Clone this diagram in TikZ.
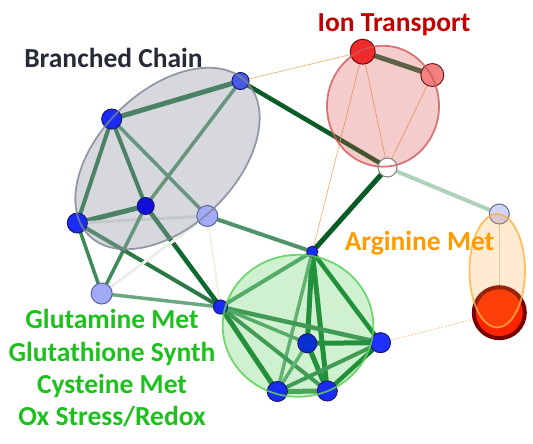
\documentclass[tikz,border=0pt]{standalone}
\usepackage{fontspec}
\setmainfont{Carlito}
\pgfdeclarelayer{edgelayer}
\pgfdeclarelayer{tintlayer}
\pgfdeclarelayer{toplayer}
\pgfsetlayers{edgelayer,tintlayer,main,toplayer}

\definecolor{dkgreen}{HTML}{0F6A30}
\definecolor{dkgreenb}{HTML}{157A35}
\definecolor{dkgreenc}{HTML}{0A5C26}
\definecolor{mdgreen}{HTML}{3E8A58}
\definecolor{mdgreenb}{HTML}{2B7A45}
\definecolor{mdgreenc}{HTML}{4F9468}
\definecolor{mdgreend}{HTML}{55A070}
\definecolor{mdgreene}{HTML}{5AA070}
\definecolor{mdgreenf}{HTML}{4A9A60}
\definecolor{iongreen}{HTML}{2F6E45}
\definecolor{ltgreen}{HTML}{6BA882}
\definecolor{palegreen}{HTML}{B0D2BA}
\definecolor{fadegreen}{HTML}{DCE6E0}
\definecolor{fadegreenb}{HTML}{E8F0E8}
\definecolor{fadegreenc}{HTML}{F2F2E4}
\definecolor{beige}{HTML}{D9D2C0}
\definecolor{dashbeige}{HTML}{EDD3A6}
\definecolor{thinorange}{HTML}{EBB57A}
\definecolor{nodeblue}{HTML}{1A2CF2}
\definecolor{nodebluelt}{HTML}{4A5AE6}
\definecolor{nodebluedk}{HTML}{1010D8}
\definecolor{nodebluedkb}{HTML}{0A30D0}
\definecolor{nodebluebr}{HTML}{2030FF}
\definecolor{nodeedge}{HTML}{18187A}
\definecolor{paleblue}{HTML}{A2AAF8}
\definecolor{paleedge}{HTML}{5E669E}
\definecolor{ionred}{HTML}{EE2A2A}
\definecolor{ionredrim}{HTML}{6A1010}
\definecolor{ionpink}{HTML}{F48080}
\definecolor{ionpinkrim}{HTML}{6A2020}
\definecolor{greyrim}{HTML}{808080}
\definecolor{lilac}{HTML}{D2D4F8}
\definecolor{lilacrim}{HTML}{6A6E90}
\definecolor{argred}{HTML}{FF2400}
\definecolor{argredrim}{HTML}{7A0000}
\definecolor{chainfill}{HTML}{9EA2AE}
\definecolor{chainrim}{HTML}{7D8494}
\definecolor{ionfill}{HTML}{D84848}
\definecolor{ionrim}{HTML}{D05858}
\definecolor{glufill}{HTML}{4CCC4C}
\definecolor{glurim}{HTML}{5CD05C}
\definecolor{argfill}{HTML}{FFA030}
\definecolor{argrim}{HTML}{FFB040}
\definecolor{chaintext}{HTML}{262B36}
\definecolor{iontext}{HTML}{C00000}
\definecolor{argtext}{HTML}{FF9A00}
\definecolor{glutext}{HTML}{1EC01E}

\tikzset{
  vtx/.style={circle, inner sep=0pt, line width=1pt},
  bvtx/.style={vtx, fill=nodeblue, draw=nodeedge},
  pvtx/.style={vtx, fill=paleblue, draw=paleedge},
  lnk/.style={line cap=round},
  dk/.style={lnk, draw=dkgreen},
  md/.style={lnk, draw=mdgreen},
  lt/.style={lnk, draw=ltgreen},
  fade/.style={lnk, draw=fadegreen, line width=3pt},
  thin/.style={lnk, draw=thinorange, line width=0.7pt},
  lbl/.style={anchor=base, inner sep=0pt, font=\bfseries\fontsize{27.5}{33}\selectfont},
}

\begin{document}
\begin{tikzpicture}[x=1pt, y=-1pt]
\useasboundingbox (0,0) rectangle (533,444);

% vertices
\node[bvtx, fill=nodebluelt, minimum size=17pt] (B1) at (240.5,81) {};
\node[bvtx, minimum size=20pt] (B2) at (111.7,119) {};
\node[bvtx, fill=nodebluedk, minimum size=17pt] (B3) at (145.7,206) {};
\node[bvtx, minimum size=20pt] (B4) at (77.3,223) {};
\node[pvtx, minimum size=21pt] (B5) at (207.3,216) {};
\node[pvtx, minimum size=21pt] (B6) at (101.7,293.5) {};

\node[bvtx, minimum size=11pt] (G1) at (312.3,251.7) {};
\node[bvtx, minimum size=14pt] (G2) at (220.5,307) {};
\node[bvtx, fill=nodebluedkb, minimum size=19pt] (G3) at (307.3,343.3) {};
\node[bvtx, fill=nodebluebr, minimum size=20pt] (G4) at (380.5,342.7) {};
\node[bvtx, minimum size=20pt] (G5) at (277.3,391.5) {};
\node[bvtx, minimum size=20pt] (G6) at (327.3,391) {};

\node[vtx, fill=ionred, draw=ionredrim, minimum size=25pt] (I1) at (362.7,51.7) {};
\node[vtx, fill=ionpink, draw=ionpinkrim, minimum size=23pt] (I2) at (432.3,75) {};
\node[vtx, fill=white, draw=greyrim, minimum size=19pt] (W) at (387.5,167.5) {};

\node[vtx, fill=lilac, draw=lilacrim, minimum size=20pt] (A1) at (499.3,214) {};
\node[vtx, fill=argred, draw=argredrim, line width=4pt, minimum size=51pt] (A2) at (499.3,312.7) {};

% connections
\begin{pgfonlayer}{edgelayer}
\draw[dk, line width=5pt] (B2) -- (B1);
\draw[dk, draw=dkgreenc, line width=4.5pt] (B1) -- (W);
\draw[md, line width=3.5pt] (B1) -- (B3);
\draw[thin] (B1) -- (I1);
\draw[dk, line width=4pt] (B2) -- (B4);
\draw[dk, line width=4pt] (B2) -- (B3);
\draw[md, line width=3.5pt] (B2) -- (B5);
\draw[dk, line width=5pt] (B4) -- (B3);
\draw[fade] (B4) -- (B5);
\draw[md, line width=3.5pt] (B4) -- (B6);
\draw[md, draw=mdgreenb, line width=4pt] (B4) -- (G2);
\draw[dk, line width=4.5pt] (B3) -- (G2);
\draw[md, line width=3.5pt] (B3) -- (B6);
\draw[md, draw=mdgreenc, line width=4pt] (B5) -- (G1);
\draw[fade, draw=fadegreenb] (B5) -- (B6);
\draw[fade, draw=fadegreenc, line width=2pt] (B5) -- (G2);
\draw[lt, line width=3.5pt] (B6) -- (G2);

\draw[dk, draw=dkgreenc, line width=5pt] (G1) -- (W);
\draw[thin] (G1) -- (I1);
\draw[dk, draw=iongreen, line width=5pt] (I1) -- (I2);
\draw[thin] (I1) -- (W);
\draw[thin] (I2) -- (W);
\draw[lnk, draw=palegreen, line width=4pt] (W) -- (A1);
\draw[lnk, draw=beige, line width=1.5pt] (A1) -- (A2);
\draw[draw=dashbeige, line width=1.1pt, dash pattern=on 2pt off 1.5pt] (G4) -- (A2);

\draw[md, draw=mdgreend, line width=4pt] (G1) -- (G2);
\draw[dk, draw=dkgreenb, line width=5pt] (G1) -- (G3);
\draw[dk, draw=dkgreenb, line width=5pt] (G1) -- (G6);
\draw[dk, draw=dkgreenb, line width=4.5pt] (G1) -- (G4);
\draw[lt, line width=3.5pt] (G1) -- (G5);
\draw[md, line width=4.5pt] (G2) -- (G4);
\draw[md, draw=mdgreene, line width=3.5pt] (G2) -- (G3);
\draw[dk, draw=dkgreenb, line width=5pt] (G2) -- (G5);
\draw[md, line width=4pt] (G2) -- (G6);
\draw[dk, draw=dkgreenb, line width=5pt] (G3) -- (G4);
\draw[dk, draw=dkgreenb, line width=5pt] (G3) -- (G6);
\draw[lt, line width=3.5pt] (G3) -- (G5);
\draw[md, line width=4pt] (G4) -- (G5);
\draw[dk, draw=dkgreenb, line width=4.5pt] (G4) -- (G6);
\draw[md, draw=mdgreenf, line width=5pt] (G5) -- (G6);
\end{pgfonlayer}

% group fills
\begin{pgfonlayer}{tintlayer}
\fill[chainfill, fill opacity=0.42] (167.5,158.5) ellipse [x radius=110pt, y radius=68pt, rotate=44];
\fill[ionfill, fill opacity=0.28] (383,106.2) ellipse [x radius=56pt, y radius=60.5pt];
\fill[glufill, fill opacity=0.27] (298,325.8) ellipse [x radius=75.3pt, y radius=71pt];
\end{pgfonlayer}

% group outlines and labels
\begin{pgfonlayer}{toplayer}
\draw[chainrim, opacity=0.8, line width=1.8pt] (167.5,158.5) ellipse [x radius=110pt, y radius=68pt, rotate=44];
\draw[ionrim, opacity=0.8, line width=1.8pt] (383,106.2) ellipse [x radius=56pt, y radius=60.5pt];
\draw[glurim, opacity=0.85, line width=1.8pt] (298,325.8) ellipse [x radius=75.3pt, y radius=71pt];
\filldraw[fill=argfill, fill opacity=0.22, draw=argrim, draw opacity=0.8, line width=1.8pt] (497.2,270.7) ellipse [x radius=27.8pt, y radius=56.7pt];

\node[lbl, text=chaintext] (tchain) at (113.5,67.5) {Branched Chain};
\node[lbl, text=iontext] (tion) at (394,32) {Ion Transport};
\node[lbl, text=argtext] (targ) at (419.5,250.5) {Arginine Met};
\node[lbl, text=glutext] (tglu1) at (112,328.5) {Glutamine Met};
\node[lbl, text=glutext] (tglu2) at (112,361) {Glutathione Synth};
\node[lbl, text=glutext] (tglu3) at (112,393.5) {Cysteine Met};
\node[lbl, text=glutext] (tglu4) at (112,425) {Ox Stress/Redox};
\end{pgfonlayer}
\end{tikzpicture}
\end{document}
